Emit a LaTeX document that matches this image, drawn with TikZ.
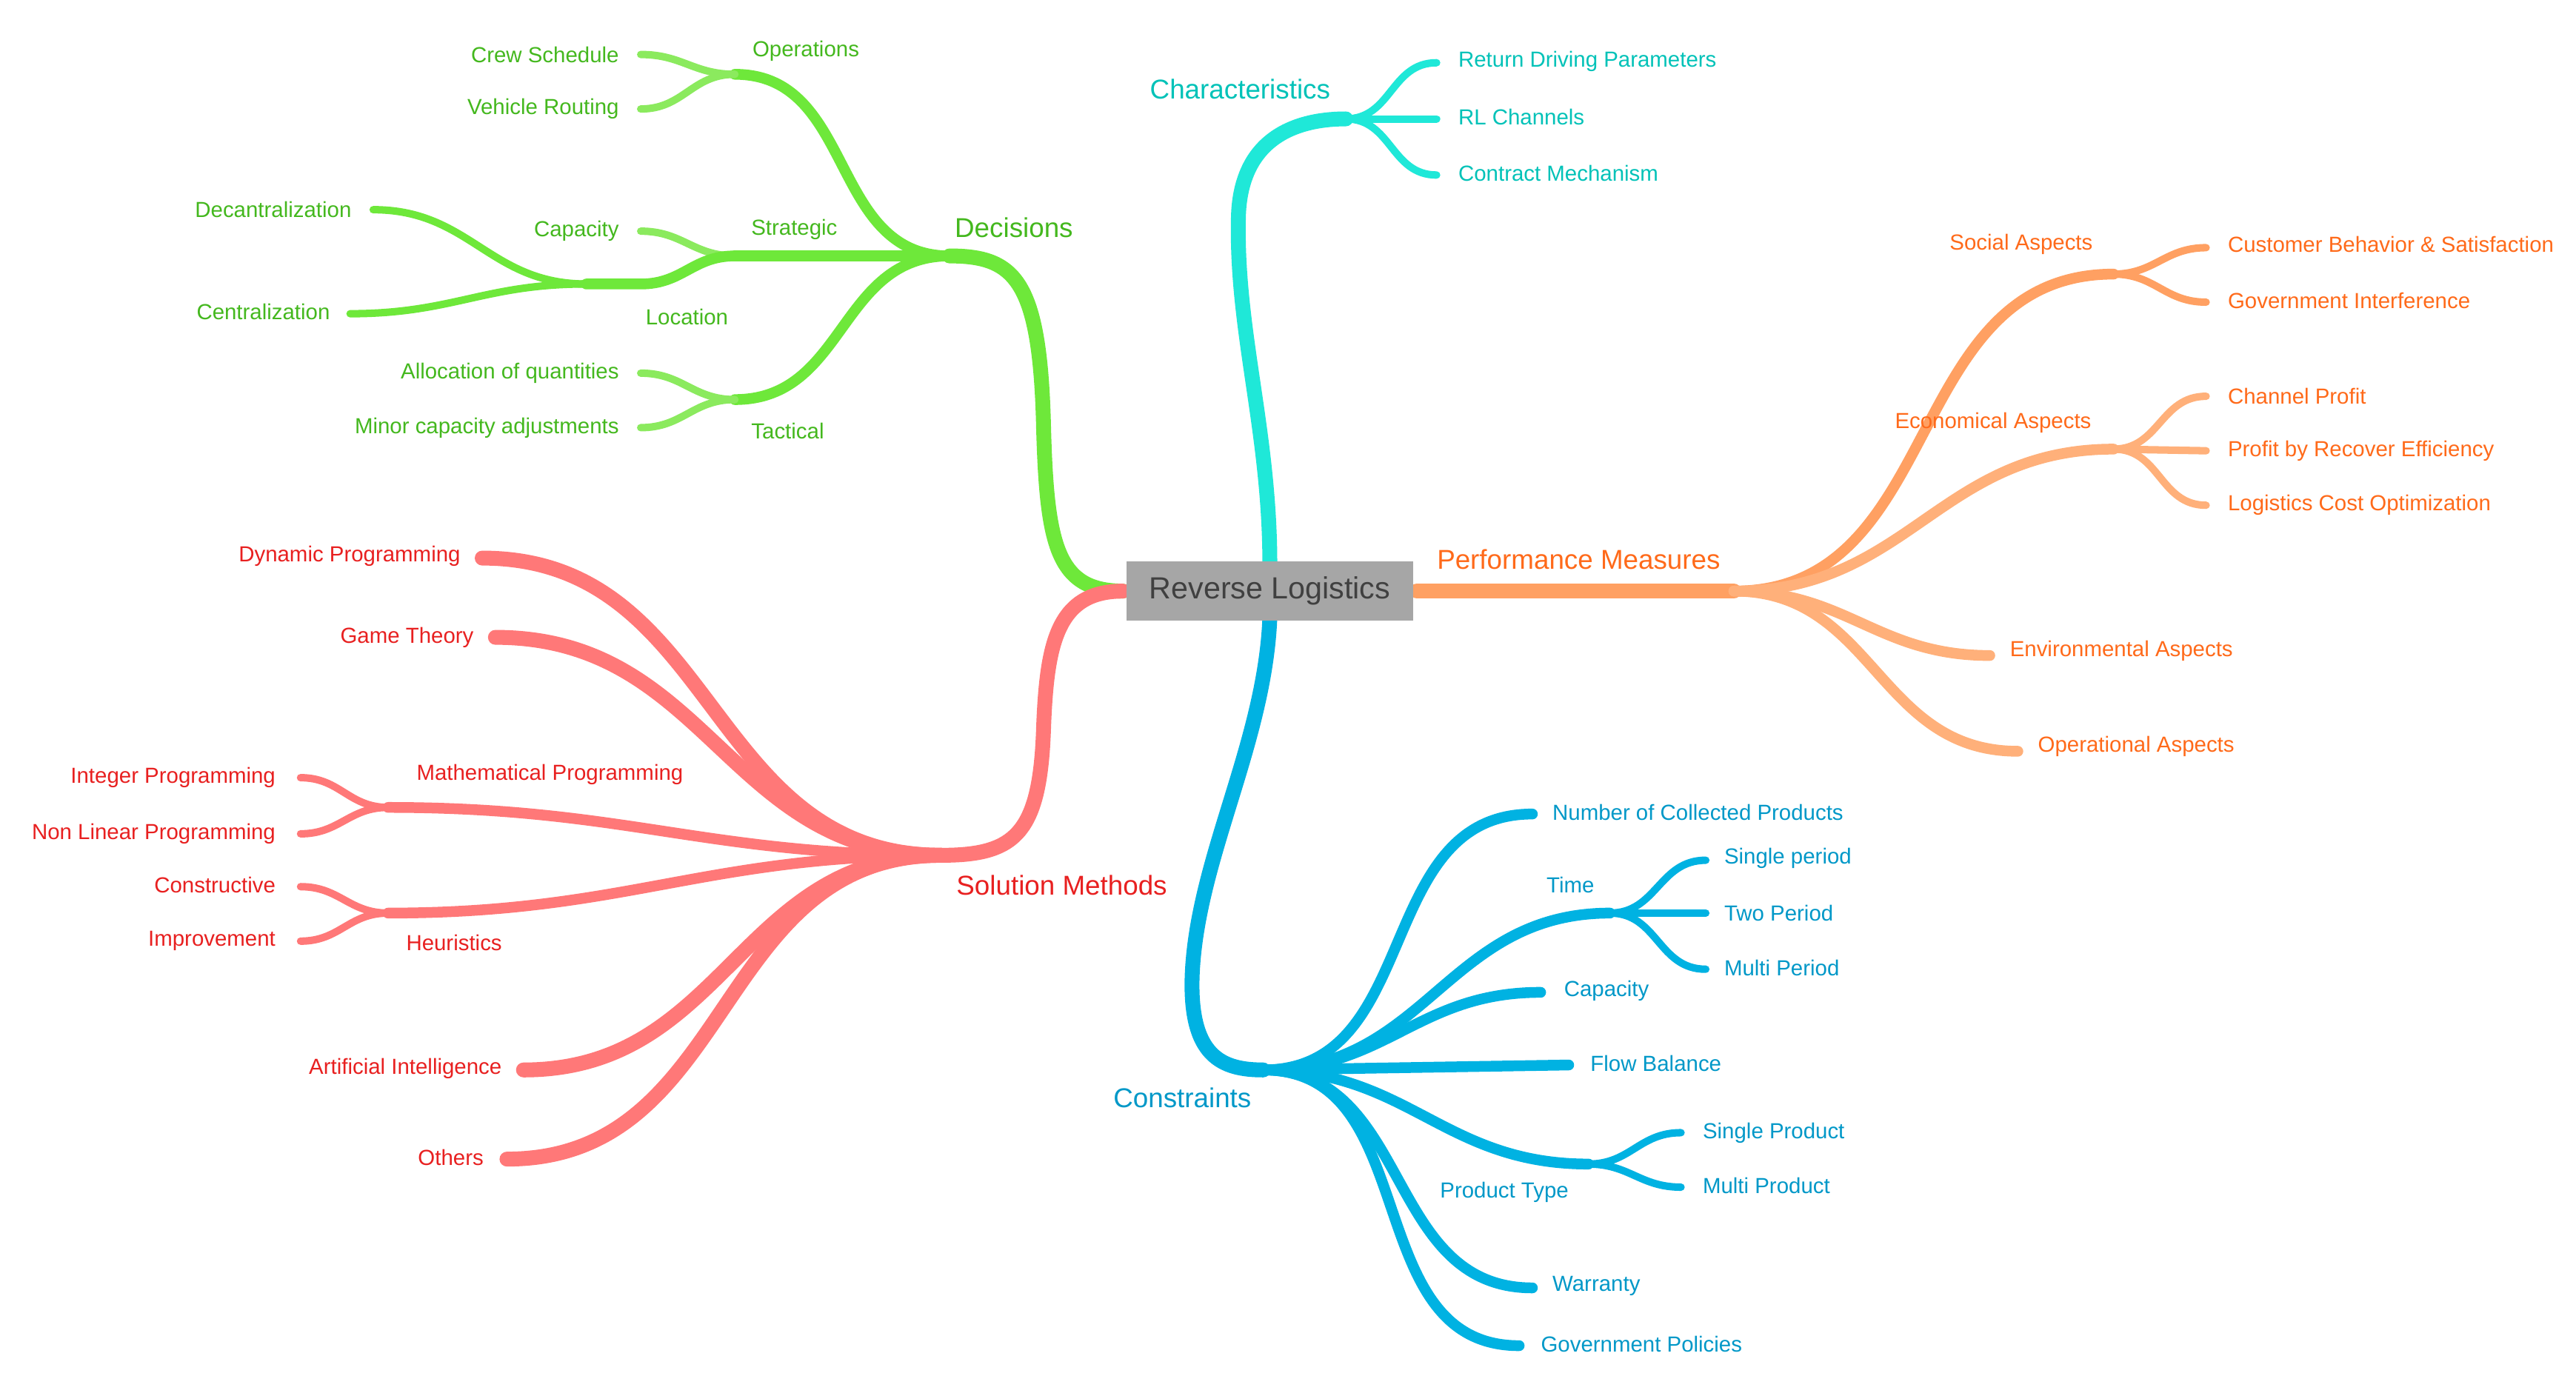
\documentclass[tikz,border=0pt]{standalone}
\usepackage{fontspec}
\setmainfont{Liberation Sans}
\usetikzlibrary{calc}
\begin{document}
\begin{tikzpicture}[x=1pt,y=-1pt,
  line cap=round,
  tr/.style={line width=9pt},
  br/.style={line width=6.5pt},
  lf/.style={line width=4.5pt},
  lbl/.style={font=\fontsize{13.2}{15}\selectfont,inner sep=1pt},
  big/.style={font=\fontsize{16.5}{19}\selectfont,inner sep=1pt},
  L/.style={out=180,in=0,looseness=1.1},
  R/.style={out=0,in=180,looseness=1.1}
]
\definecolor{gA}{HTML}{6EE83A}\definecolor{gB}{HTML}{8BEA5E}\definecolor{gT}{HTML}{44B81E}
\definecolor{cA}{HTML}{1FE8D8}\definecolor{cT}{HTML}{00C2B8}
\definecolor{oA}{HTML}{FFA062}\definecolor{oB}{HTML}{FFB07A}\definecolor{oT}{HTML}{FF6A1A}
\definecolor{rA}{HTML}{FF7878}\definecolor{rT}{HTML}{E82020}
\definecolor{bA}{HTML}{00B2E2}\definecolor{bT}{HTML}{0098C8}
\useasboundingbox[fill=white] (0,0) rectangle (1560,833);

% ---------- coordinates ----------
\coordinate (CL) at (680,358); \coordinate (CR) at (858,358);
\coordinate (CTp) at (769,342); \coordinate (CB) at (769,374);
\coordinate (D) at (575,155); \coordinate (O) at (445,45); \coordinate (S) at (445,155); \coordinate (T) at (445,242);
\coordinate (cs) at (388,33); \coordinate (vr) at (388,66);
\coordinate (cap) at (388,140); \coordinate (loc) at (388,172); \coordinate (locj) at (355,172);
\coordinate (dec) at (226,127); \coordinate (cen) at (212,190);
\coordinate (aq) at (388,226); \coordinate (mc) at (388,259);
\coordinate (Ch) at (815,72); \coordinate (rd) at (870,38); \coordinate (rl) at (870,72); \coordinate (cm) at (870,106);
\coordinate (P) at (1050,358);
\coordinate (So) at (1280,166); \coordinate (cb) at (1336,150); \coordinate (gi) at (1336,183);
\coordinate (Ec) at (1280,272); \coordinate (cp) at (1336,240); \coordinate (pr) at (1336,273); \coordinate (lc) at (1336,306);
\coordinate (En) at (1205,397); \coordinate (Op) at (1222,455);
\coordinate (SM) at (570,518);
\coordinate (dp) at (292,338); \coordinate (gt) at (300,386); \coordinate (MP) at (235,489); \coordinate (H) at (235,553);
\coordinate (ai) at (317,648); \coordinate (ot) at (307,702);
\coordinate (ip) at (182,471); \coordinate (nl) at (182,505); \coordinate (co) at (182,537); \coordinate (im) at (182,570);
\coordinate (CN) at (765,648);
\coordinate (nc) at (928,493); \coordinate (Ti) at (975,553); \coordinate (ca) at (933,601); \coordinate (fb) at (950,645);
\coordinate (PT) at (962,705); \coordinate (wa) at (928,780); \coordinate (gp) at (920,815);
\coordinate (sp) at (1033,521); \coordinate (tp) at (1033,553); \coordinate (mp) at (1033,587);
\coordinate (spr) at (1018,686); \coordinate (mpr) at (1018,719);

% ---------- decisions ----------
\draw[tr,gA] (CL) .. controls (640,358) and (634,330) .. (632,260) .. controls (630,170) and (615,155) .. (D);
\draw[br,gA] (D) to[L] (O); \draw[br,gA] (D) -- (S); \draw[br,gA] (D) to[L] (T);
\draw[lf,gB] (O) to[L] (cs); \draw[lf,gB] (O) to[L] (vr);
\draw[lf,gB] (S) to[L] (cap); \draw[br,gA] (S) to[L] (loc) -- (locj);
\draw[lf,gA] (locj) to[L] (dec); \draw[lf,gA] (locj) to[L] (cen);
\draw[lf,gB] (T) to[L] (aq); \draw[lf,gB] (T) to[L] (mc);
% ---------- characteristics ----------
\draw[tr,cA] (CTp) .. controls (769,260) and (748,200) .. (750,130) .. controls (752,80) and (790,72) .. (Ch);
\draw[lf,cA] (Ch) to[R] (rd); \draw[lf,cA] (Ch) -- (rl); \draw[lf,cA] (Ch) to[R] (cm);
% ---------- performance ----------
\draw[tr,oA] (CR) -- (P);
\draw[br,oA] (P) to[R] (So); \draw[br,oB] (P) to[R] (Ec);
\draw[br,oB] (P) to[R] (En); \draw[br,oB] (P) to[R] (Op);
\draw[lf,oA] (So) to[R] (cb); \draw[lf,oA] (So) to[R] (gi);
\draw[lf,oB] (Ec) to[R] (cp); \draw[lf,oB] (Ec) -- (pr); \draw[lf,oB] (Ec) to[R] (lc);
% ---------- solution methods ----------
\draw[tr,rA] (CL) .. controls (640,358) and (634,390) .. (632,440) .. controls (630,505) and (615,518) .. (SM);
\draw[tr,rA] (SM) to[L] (dp); \draw[tr,rA] (SM) to[L] (gt);
\draw[br,rA] (SM) to[L] (MP); \draw[br,rA] (SM) to[L] (H);
\draw[tr,rA] (SM) to[L] (ai); \draw[tr,rA] (SM) to[L] (ot);
\draw[lf,rA] (MP) to[L] (ip); \draw[lf,rA] (MP) to[L] (nl);
\draw[lf,rA] (H) to[L] (co); \draw[lf,rA] (H) to[L] (im);
% ---------- constraints ----------
\draw[tr,bA] (CB) .. controls (766,450) and (725,520) .. (722,590) .. controls (720,640) and (740,648) .. (CN);
\draw[br,bA] (CN) to[R] (nc); \draw[br,bA] (CN) to[R] (Ti); \draw[br,bA] (CN) to[R] (ca);
\draw[br,bA] (CN) -- (fb); \draw[br,bA] (CN) to[R] (PT); \draw[br,bA] (CN) to[R] (wa); \draw[br,bA] (CN) to[R] (gp);
\draw[lf,bA] (Ti) to[R] (sp); \draw[lf,bA] (Ti) -- (tp); \draw[lf,bA] (Ti) to[R] (mp);
\draw[lf,bA] (PT) to[R] (spr); \draw[lf,bA] (PT) to[R] (mpr);

% ---------- center ----------
\node[fill=black!35,minimum width=174pt,minimum height=36pt,inner sep=0pt,text=black!75,font=\fontsize{18.5}{21}\selectfont] (C) at (769,358) {Reverse Logistics};

% ---------- labels ----------
\node[big,text=gT] (lD) at (614,138) {Decisions};
\node[lbl,text=gT] (lO) at (488,31) {Operations};
\node[lbl,text=gT] (lS) at (481,139) {Strategic};
\node[lbl,text=gT] (lT) at (477,261) {Tactical};
\node[lbl,text=gT] (lL) at (416,192) {Location};
\node[lbl,text=gT,anchor=east] (lcs) at (376,33) {Crew Schedule};
\node[lbl,text=gT,anchor=east] (lvr) at (376,66) {Vehicle Routing};
\node[lbl,text=gT,anchor=east] (lcap) at (376,140) {Capacity};
\node[lbl,text=gT,anchor=east] (ldec) at (214,127) {Decantralization};
\node[lbl,text=gT,anchor=east] (lcen) at (201,189) {Centralization};
\node[lbl,text=gT,anchor=east] (laq) at (376,226) {Allocation of quantities};
\node[lbl,text=gT,anchor=east] (lmc) at (376,259) {Minor capacity adjustments};

\node[big,text=cT] (lCh) at (751,54) {Characteristics};
\node[lbl,text=cT,anchor=west] (lrd) at (882,37) {Return Driving Parameters};
\node[lbl,text=cT,anchor=west] (lrl) at (882,71) {RL Channels};
\node[lbl,text=cT,anchor=west] (lcm) at (882,105) {Contract Mechanism};

\node[big,text=oT] (lP) at (956,339) {Performance Measures};
\node[lbl,text=oT] (lSo) at (1224,148) {Social Aspects};
\node[lbl,text=oT] (lEc) at (1207,256) {Economical Aspects};
\node[lbl,text=oT,anchor=west] (lcb) at (1348,148) {Customer Behavior \& Satisfaction};
\node[lbl,text=oT,anchor=west] (lgi) at (1348,182) {Government Interference};
\node[lbl,text=oT,anchor=west] (lcp) at (1348,240) {Channel Profit};
\node[lbl,text=oT,anchor=west] (lpr) at (1348,273) {Profit by Recover Efficiency};
\node[lbl,text=oT,anchor=west] (llc) at (1348,306) {Logistics Cost Optimization};
\node[lbl,text=oT,anchor=west] (lEn) at (1216,394) {Environmental Aspects};
\node[lbl,text=oT,anchor=west] (lOp) at (1233,452) {Operational Aspects};

\node[big,text=rT] (lSM) at (643,536) {Solution Methods};
\node[lbl,text=rT,anchor=east] (ldp) at (280,337) {Dynamic Programming};
\node[lbl,text=rT,anchor=east] (lgt) at (288,386) {Game Theory};
\node[lbl,text=rT] (lMP) at (333,469) {Mathematical Programming};
\node[lbl,text=rT] (lH) at (275,571) {Heuristics};
\node[lbl,text=rT,anchor=east] (lip) at (168,471) {Integer Programming};
\node[lbl,text=rT,anchor=east] (lnl) at (168,505) {Non Linear Programming};
\node[lbl,text=rT,anchor=east] (lco) at (168,536) {Constructive};
\node[lbl,text=rT,anchor=east] (lim) at (168,570) {Improvement};
\node[lbl,text=rT,anchor=east] (lai) at (305,647) {Artificial Intelligence};
\node[lbl,text=rT,anchor=east] (lot) at (294,701) {Others};

\node[big,text=bT] (lCN) at (716,665) {Constraints};
\node[lbl,text=bT,anchor=west] (lnc) at (939,492) {Number of Collected Products};
\node[lbl,text=bT] (lTi) at (951,536) {Time};
\node[lbl,text=bT,anchor=west] (lca) at (946,600) {Capacity};
\node[lbl,text=bT,anchor=west] (lfb) at (962,644) {Flow Balance};
\node[lbl,text=bT] (lPT) at (911,722) {Product Type};
\node[lbl,text=bT,anchor=west] (lwa) at (939,779) {Warranty};
\node[lbl,text=bT,anchor=west] (lgp) at (932,814) {Government Policies};
\node[lbl,text=bT,anchor=west] (lsp) at (1043,520) {Single period};
\node[lbl,text=bT,anchor=west] (ltp) at (1043,553) {Two Period};
\node[lbl,text=bT,anchor=west] (lmp) at (1043,586) {Multi Period};
\node[lbl,text=bT,anchor=west] (lspr) at (1030,686) {Single Product};
\node[lbl,text=bT,anchor=west] (lmpr) at (1030,718) {Multi Product};
\end{tikzpicture}
\end{document}
